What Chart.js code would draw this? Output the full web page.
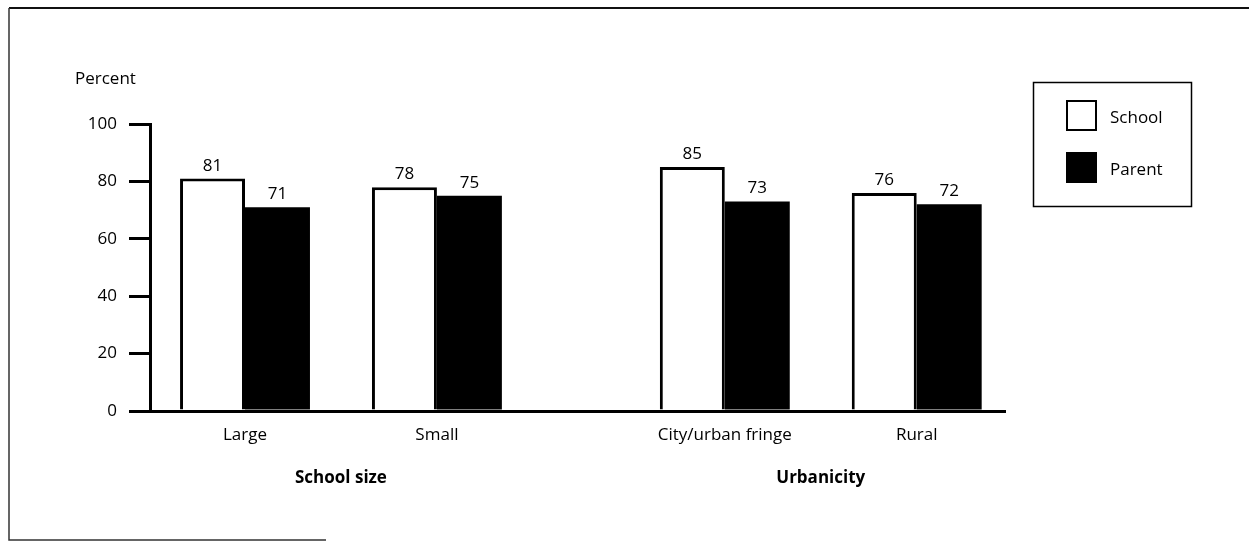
<!DOCTYPE html>
<html>
<head>
<meta charset="utf-8">
<script src="https://cdn.jsdelivr.net/npm/chart.js@4/dist/chart.umd.min.js"></script>
<style>
html,body{margin:0;padding:0;background:#fff;}
canvas{display:block;}
</style>
</head>
<body>
<canvas id="c" width="1249" height="541"></canvas>
<script>
// ---- data ----
const categories = ['Large', 'Small', 'City/urban fringe', 'Rural'];
const categorySlots = [0, 1, 2.5, 3.5];          // slot positions along x (gap between groups)
const groupNames = ['School size', 'Urbanicity'];
const groupOfCategory = [0, 0, 1, 1];
const seriesNames = ['School', 'Parent'];
const schoolValues = [81, 78, 85, 76];
const parentValues = [71, 75, 73, 72];
const yTicks = [0, 20, 40, 60, 80, 100];
const yAxisTitle = 'Percent';

const FONT = "'Open Sans', 'DejaVu Sans', sans-serif";

const toPoints = vals => vals.map((v, i) => ({ x: categorySlots[i], y: v }));

const decorPlugin = {
  id: 'decor',
  beforeDraw(chart) {
    const ctx = chart.ctx;
    ctx.save();
    ctx.fillStyle = '#fff';
    ctx.fillRect(0, 0, chart.width, chart.height);
    // scanned frame
    ctx.strokeStyle = '#111';
    ctx.lineWidth = 2;
    ctx.beginPath(); ctx.moveTo(9, 8); ctx.lineTo(chart.width, 8); ctx.stroke();
    ctx.lineWidth = 1.5;
    ctx.strokeStyle = '#333';
    ctx.beginPath(); ctx.moveTo(9, 8); ctx.lineTo(9, 540); ctx.lineTo(326, 540); ctx.stroke();
    ctx.restore();
  },
  afterDraw(chart) {
    const ctx = chart.ctx;
    const xs = chart.scales.x;
    ctx.save();
    ctx.fillStyle = '#000';
    // y title
    ctx.font = '17px ' + FONT;
    ctx.textAlign = 'left';
    ctx.textBaseline = 'alphabetic';
    ctx.fillText(yAxisTitle, 75, 84);
    // value labels
    ctx.textAlign = 'center';
    chart.data.datasets.forEach((ds, di) => {
      const meta = chart.getDatasetMeta(di);
      meta.data.forEach((el, i) => {
        ctx.fillText(String(ds.data[i].y), el.x, el.y - 8);
      });
    });
    // group labels
    ctx.font = 'bold 17px ' + FONT;
    groupNames.forEach((g, gi) => {
      const slots = categorySlots.filter((s, i) => groupOfCategory[i] === gi);
      const mid = slots.reduce((a, b) => a + b, 0) / slots.length;
      ctx.fillText(g, xs.getPixelForValue(mid), 483);
    });
    // legend
    ctx.lineWidth = 1.5;
    ctx.strokeStyle = '#000';
    ctx.strokeRect(1033.5, 82.5, 158, 124);
    ctx.font = '17px ' + FONT;
    ctx.textAlign = 'left';
    chart.data.datasets.forEach((ds, di) => {
      const top = 100 + di * 52;
      ctx.fillStyle = ds.backgroundColor;
      ctx.fillRect(1066, top, 31, 31);
      ctx.lineWidth = 2;
      ctx.strokeStyle = ds.borderColor;
      ctx.strokeRect(1067, top + 1, 29, 29);
      ctx.fillStyle = '#000';
      ctx.fillText(ds.label, 1110, top + 23);
    });
    ctx.restore();
  }
};

new Chart(document.getElementById('c'), {
  type: 'bar',
  data: {
    datasets: [
      { label: seriesNames[0], data: toPoints(schoolValues), backgroundColor: '#ffffff', borderColor: '#000000', borderWidth: 3, borderSkipped: 'start' },
      { label: seriesNames[1], data: toPoints(parentValues), backgroundColor: '#000000', borderColor: '#000000', borderWidth: 0 }
    ]
  },
  options: {
    responsive: false,
    animation: false,
    events: [],
    categoryPercentage: 0.677,
    barPercentage: 1,
    layout: { padding: { left: 0, right: 244, top: 124, bottom: 0 } },
    plugins: { legend: { display: false }, tooltip: { enabled: false } },
    scales: {
      x: {
        type: 'linear',
        offset: false,
        min: -0.495,
        max: 3.96,
        afterBuildTicks: s => { s.ticks = categorySlots.map(v => ({ value: v })); },
        afterFit: s => { s.height = 130; },
        grid: { display: false, drawTicks: false },
        border: { display: true, color: '#000', width: 3 },
        ticks: {
          autoSkip: false, maxRotation: 0, padding: 14,
          color: '#000', font: { family: FONT, size: 17 },
          callback: (v) => categories[categorySlots.indexOf(v)]
        }
      },
      y: {
        min: 0, max: 100,
        afterBuildTicks: s => { s.ticks = yTicks.map(v => ({ value: v })); },
        afterFit: s => { s.width = 150; },
        grid: { drawOnChartArea: false, drawTicks: true, tickLength: 21, color: '#000', lineWidth: 3 },
        border: { display: true, color: '#000', width: 3 },
        ticks: { padding: 12, color: '#000', font: { family: FONT, size: 17 } }
      }
    }
  },
  plugins: [decorPlugin]
});
</script>
</body>
</html>
